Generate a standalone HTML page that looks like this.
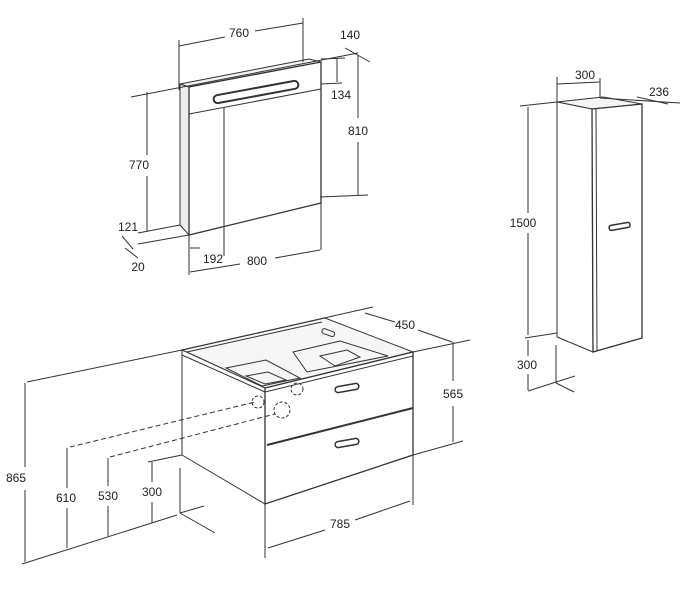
<!DOCTYPE html>
<html><head><meta charset="utf-8"><style>
html,body{margin:0;padding:0;background:#fff}
svg{display:block}
text{font-family:"Liberation Sans",Arial,sans-serif;font-size:12px;fill:#222;text-anchor:middle}
</style></head><body>
<svg width="700" height="590" viewBox="0 0 700 590" xmlns="http://www.w3.org/2000/svg">
<g fill="none" stroke="#333" stroke-width="1">
<!-- MIRROR -->
<polygon points="180,84 309,59 321,62 189,87" fill="#f4f4f4"/>
<polygon points="180,84 189,87 189,235 180,225" fill="#eee"/>
<polygon points="189,87 321,62 321,203 189,235" fill="#fff" stroke-width="1.3"/>
<line x1="189" y1="114" x2="321" y2="89"/>
<line x1="224" y1="107" x2="224" y2="228"/>
<rect x="213" y="88" width="86" height="8" rx="4" transform="rotate(-10.5 256 92)" stroke-width="2"/>
<!-- mirror dims -->
<line x1="179" y1="40" x2="179" y2="90"/><line x1="303" y1="18" x2="303" y2="62"/>
<line x1="179" y1="46" x2="225" y2="37"/><line x1="255" y1="31" x2="303" y2="23"/>
<line x1="131" y1="97" x2="358" y2="53"/>
<line x1="345" y1="48" x2="370" y2="62"/>
<line x1="321" y1="59" x2="345" y2="58"/><line x1="337" y1="58" x2="337" y2="82"/><line x1="321" y1="84" x2="342" y2="83"/>
<line x1="358" y1="55" x2="358" y2="118"/><line x1="358" y1="142" x2="358" y2="195"/>
<line x1="320" y1="197" x2="368" y2="195"/>
<line x1="147" y1="92" x2="147" y2="155"/><line x1="147" y1="176" x2="147" y2="232"/>
<line x1="138" y1="233" x2="180" y2="225"/>
<line x1="138" y1="244" x2="189" y2="235"/>
<line x1="122" y1="236" x2="133" y2="249"/><line x1="125" y1="248" x2="138" y2="258"/>
<line x1="189" y1="235" x2="189" y2="275"/><line x1="224" y1="228" x2="224" y2="256"/><line x1="321" y1="203" x2="321" y2="250"/>
<line x1="190" y1="248" x2="200" y2="248"/><line x1="190" y1="272" x2="240" y2="264"/><line x1="275" y1="258" x2="320" y2="250"/>
<!-- TALL COLUMN -->
<polygon points="557,102 603,97 642,104 592,109" fill="#f4f4f4"/>
<polygon points="557,102 592,109 593,352 557,337" fill="#fff"/>
<polygon points="592,109 642,104 642,338 593,352" fill="#fff" stroke-width="1.3"/>
<line x1="596" y1="109" x2="597" y2="351"/>
<rect x="609" y="224" width="21" height="5" rx="2" transform="rotate(-10 619 226)" stroke-width="1.5"/>
<line x1="557" y1="77" x2="557" y2="102"/><line x1="600" y1="78" x2="600" y2="98"/>
<line x1="557" y1="84" x2="600" y2="82"/>
<line x1="520" y1="106" x2="557" y2="102"/><line x1="600" y1="98" x2="680" y2="103"/><line x1="637" y1="97" x2="668" y2="104"/>
<line x1="528" y1="107" x2="528" y2="213"/><line x1="528" y1="233" x2="528" y2="335"/>
<line x1="525" y1="338" x2="557" y2="333"/>
<line x1="528" y1="340" x2="528" y2="356"/><line x1="528" y1="374" x2="528" y2="390"/>
<line x1="528" y1="391" x2="575" y2="376"/><line x1="556" y1="345" x2="556" y2="383"/><line x1="556" y1="383" x2="574" y2="392"/>
<!-- VANITY -->
<polygon points="182,350 325,318 413,352 265,388" fill="#f6f6f6"/>
<polygon points="182,350 265,388 265,504 182,455" fill="#fff"/>
<polygon points="265,388 413,352 413,455 265,504" fill="#fff" stroke-width="1.3"/>
<line x1="187" y1="352" x2="322" y2="322"/>
<line x1="182" y1="355" x2="265" y2="392"/><line x1="265" y1="392" x2="413" y2="356"/>
<polygon points="226,368 266,360 300,378 262,386"/>
<polygon points="246,376 268,372 286,380 265,384"/>
<polygon points="293,352 340,341 388,356 307,372"/>
<polygon points="320,356 347,350 360,357 335,366"/>
<rect x="322" y="330" width="13" height="5" rx="2" transform="rotate(20 328 332)"/>
<line x1="267" y1="445" x2="413" y2="408" stroke-width="2"/>
<rect x="335" y="385" width="24" height="6" rx="3" transform="rotate(-10 347 388)" stroke-width="1.5"/>
<rect x="335" y="440" width="24" height="6" rx="3" transform="rotate(-10 347 443)" stroke-width="1.5"/>
<circle cx="258" cy="402" r="6" stroke-dasharray="3,2"/>
<circle cx="282" cy="410" r="8" stroke-dasharray="3,2"/>
<circle cx="297" cy="389" r="6" stroke-dasharray="3,2"/>
<line x1="70" y1="447" x2="255" y2="402" stroke-dasharray="5,3"/>
<line x1="110" y1="457" x2="275" y2="414" stroke-dasharray="5,3"/>
<line x1="27" y1="382" x2="182" y2="350"/><line x1="182" y1="350" x2="373" y2="307"/>
<line x1="365" y1="313" x2="395" y2="322"/><line x1="418" y1="330" x2="452" y2="342"/>
<line x1="413" y1="352" x2="470" y2="340"/><line x1="413" y1="455" x2="463" y2="441"/>
<line x1="453" y1="342" x2="453" y2="381"/><line x1="453" y1="406" x2="453" y2="442"/>
<line x1="25" y1="383" x2="25" y2="467"/><line x1="25" y1="490" x2="25" y2="562"/>
<line x1="22" y1="564" x2="177" y2="515"/>
<line x1="180" y1="468" x2="180" y2="513"/><line x1="180" y1="513" x2="215" y2="533"/><line x1="180" y1="513" x2="204" y2="506"/>
<line x1="67" y1="448" x2="67" y2="488"/><line x1="67" y1="508" x2="67" y2="548"/>
<line x1="108" y1="458" x2="108" y2="486"/><line x1="108" y1="506" x2="108" y2="536"/>
<line x1="152" y1="462" x2="152" y2="482"/><line x1="152" y1="502" x2="152" y2="523"/>
<line x1="148" y1="462" x2="182" y2="455"/>
<line x1="265" y1="504" x2="265" y2="558"/><line x1="413" y1="455" x2="413" y2="505"/>
<line x1="268" y1="548" x2="325" y2="530"/><line x1="355" y1="520" x2="410" y2="501"/>
</g>
<text x="239" y="37">760</text>
<text x="350" y="39">140</text>
<text x="341" y="99">134</text>
<text x="358" y="135">810</text>
<text x="139" y="169">770</text>
<text x="128" y="231">121</text>
<text x="138" y="271">20</text>
<text x="213" y="263">192</text>
<text x="257" y="265">800</text>
<text x="585" y="79">300</text>
<text x="659" y="96">236</text>
<text x="523" y="227">1500</text>
<text x="527" y="369">300</text>
<text x="405" y="329">450</text>
<text x="453" y="398">565</text>
<text x="16" y="482">865</text>
<text x="66" y="502">610</text>
<text x="108" y="500">530</text>
<text x="152" y="496">300</text>
<text x="340" y="528">785</text>
</svg>
</body></html>
